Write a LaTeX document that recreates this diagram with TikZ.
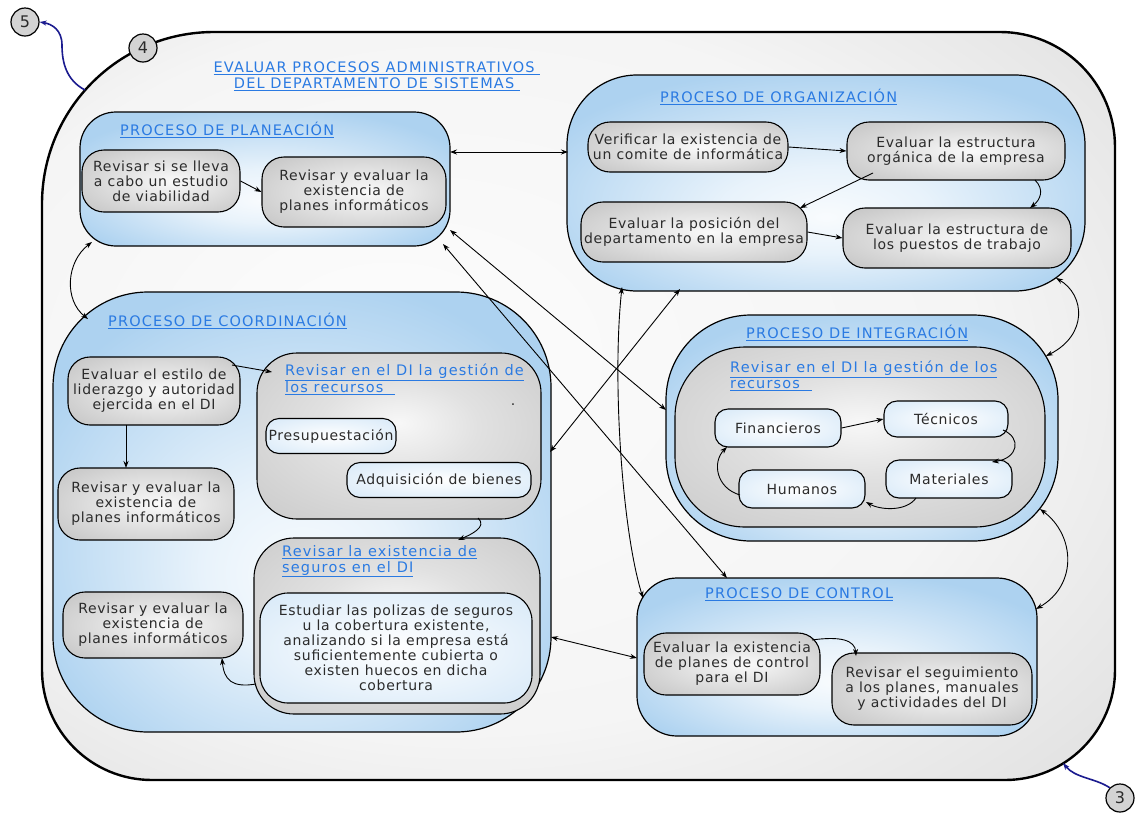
\documentclass[tikz,border=0pt]{standalone}
\usepackage{fontspec}
\setmainfont{DejaVu Sans}[LetterSpace=5]
\usetikzlibrary{arrows.meta}

\definecolor{procblue}{HTML}{ADD2F0}
\definecolor{itemblue}{HTML}{D2E6F7}
\definecolor{taskgray}{HTML}{C4C4C4}
\definecolor{boxgray}{HTML}{CDCDCD}
\definecolor{framegray}{HTML}{DADADA}
\definecolor{linkblue}{HTML}{2A7AE2}
\definecolor{inkgray}{HTML}{2B2B2B}
\definecolor{navyline}{HTML}{1B1B8F}
\definecolor{tagfill}{HTML}{D3D3D3}

\pgfdeclareradialshading{procshade}{\pgfpoint{0bp}{-8bp}}{color(0bp)=(white!92!procblue); color(10bp)=(white!72!procblue); color(30bp)=(procblue); color(50bp)=(procblue)}
\pgfdeclareradialshading{taskshade}{\pgfpoint{4bp}{0bp}}{color(0bp)=(white!92!taskgray); color(10bp)=(white!65!taskgray); color(36bp)=(taskgray); color(50bp)=(taskgray)}
\pgfdeclareradialshading{boxshade}{\pgfpoint{0bp}{4bp}}{color(0bp)=(white!85!boxgray); color(14bp)=(white!40!boxgray); color(34bp)=(boxgray); color(50bp)=(boxgray)}
\pgfdeclareradialshading{itemshade}{\pgfpoint{0bp}{0bp}}{color(0bp)=(white); color(16bp)=(white!60!itemblue); color(40bp)=(itemblue); color(50bp)=(itemblue)}
\pgfdeclareradialshading{frameshade}{\pgfpoint{-10bp}{4bp}}{color(0bp)=(white!99!black); color(24bp)=(white!96!black); color(42bp)=(framegray); color(50bp)=(framegray)}

\newcommand\tkfont{\fontsize{14}{15}\selectfont}
\newcommand\lkfont{\fontsize{14.5}{16}\selectfont\addfontfeature{LetterSpace=8}}
\newcommand\lnk[1]{\underline{#1}}

\tikzset{
  proc/.style={draw=black, line width=1.2pt, shade, shading=procshade, rounded corners=#1, inner sep=0pt},
  proc/.default=40pt,
  task/.style={draw=black, line width=1.1pt, shade, shading=taskshade, rounded corners=#1,
    align=center, text=inkgray, inner sep=0pt, font=\tkfont},
  task/.default=22pt,
  box/.style={draw=black, line width=1.1pt, shade, shading=boxshade, rounded corners=#1, inner sep=0pt},
  box/.default=40pt,
  item/.style={draw=black, line width=1.1pt, shade, shading=itemshade, rounded corners=13pt,
    align=center, text=inkgray, inner sep=0pt, font=\tkfont},
  ptitle/.style={text=linkblue, anchor=west, inner sep=0pt, font=\lkfont},
  subtitle/.style={text=linkblue, anchor=north west, inner sep=0pt, align=left, font=\lkfont},
  tip/.tip={Stealth[length=7pt,width=5pt]},
  onearrow/.style={-tip, line width=0.9pt},
  twoarrow/.style={tip-tip, line width=0.9pt},
  bluearrow/.style={-{Stealth[length=7pt,width=5pt]}, draw=navyline, line width=1.6pt},
  tag/.style={circle, draw=black, line width=1.2pt, fill=tagfill, minimum size=28pt,
    inner sep=0pt, text=inkgray, font=\fontsize{16}{16}\selectfont},
}

\begin{document}
\begin{tikzpicture}[x=1pt, y=-1pt]
\useasboundingbox (0,0) rectangle (1141,815);
\fill[white] (0,0) rectangle (1141,815);

% outer frame of the whole audit
\shade[shading=frameshade, draw=black, line width=2.4pt]
  (42,204) .. controls (42,109) and (119,32) .. (214,32)
  -- (1000,32) .. controls (1063.5,32) and (1115,83.5) .. (1115,147)
  -- (1115,670) .. controls (1115,730.8) and (1065.8,780) .. (1005,780)
  -- (152,780) .. controls (91.2,780) and (42,730.8) .. (42,670) -- cycle;
\coordinate (frame5) at (85,90);
\coordinate (frame3) at (1063,763);

\node[ptitle, anchor=center, align=center] (title) at (377,76)
  {\lnk{EVALUAR PROCESOS ADMINISTRATIVOS\ }\\\lnk{DEL DEPARTAMENTO DE SISTEMAS\ }};

% process blobs
\node[proc=36pt, minimum width=370pt, minimum height=134pt] (plan) at (265,179) {};
\node[proc=70pt, minimum width=518pt, minimum height=216pt] (org) at (826,183) {};
\node[proc=95pt, minimum width=498pt, minimum height=440pt] (coord) at (302,512) {};
\node[proc=85pt, minimum width=392pt, minimum height=226pt] (integ) at (862,428) {};
\node[proc=40pt, minimum width=400pt, minimum height=158pt] (ctrl) at (837,657) {};

\node[ptitle] (tplan) at (120,130) {\lnk{PROCESO DE PLANEACIÓN}};
\node[ptitle] (torg) at (660,97) {\lnk{PROCESO DE ORGANIZACIÓN}};
\node[ptitle] (tcoord) at (108,321) {\lnk{PROCESO DE COORDINACIÓN}};
\node[ptitle] (tinteg) at (746,333) {\lnk{PROCESO DE INTEGRACIÓN}};
\node[ptitle] (tctrl) at (705,594) {\lnk{PROCESO DE CONTROL}};

% planeacion
\node[task, minimum width=158pt, minimum height=62pt] (p1) at (161,181) {Revisar si se lleva\\a cabo un estudio\\de viabilidad};
\node[task, minimum width=184pt, minimum height=70pt] (p2) at (354,192) {Revisar y evaluar la\\existencia de\\planes informáticos};

% organizacion
\node[task, minimum width=200pt, minimum height=50pt] (o1) at (688,147) {Verificar la existencia de\\un comite de informática};
\node[task, minimum width=218pt, minimum height=58pt] (o2) at (956,151) {Evaluar la estructura\\orgánica de la empresa};
\node[task, minimum width=226pt, minimum height=60pt] (o3) at (694,232) {Evaluar la posición del\\departamento en la empresa};
\node[task, minimum width=228pt, minimum height=60pt] (o4) at (957,238) {Evaluar la estructura de\\los puestos de trabajo};

% coordinacion
\node[task, minimum width=172pt, minimum height=68pt] (c1) at (154,391) {Evaluar el estilo de\\liderazgo y autoridad\\ejercida en el DI};
\node[task, minimum width=176pt, minimum height=72pt] (c2) at (146,504) {Revisar y evaluar la\\existencia de\\planes informáticos};
\node[task, minimum width=180pt, minimum height=66pt] (c3) at (153,625) {Revisar y evaluar la\\existencia de\\planes informáticos};
\node[box=40pt, minimum width=284pt, minimum height=166pt] (g) at (399,436) {};
\node[subtitle] (tg) at (285,364) {\lnk{Revisar en el DI la gestión de}\\\lnk{los recursos\ \ }};
\node[text=inkgray, inner sep=0pt, font=\tkfont] (gdot) at (513,405) {.};
\node[item, minimum width=130pt, minimum height=35pt] (pres) at (331,436) {Presupuestación};
\node[item, minimum width=184pt, minimum height=35pt] (adq) at (439,480) {Adquisición de bienes};
\node[box=40pt, minimum width=286pt, minimum height=176pt] (s) at (397,626) {};
\node[subtitle] (ts) at (282,545) {\lnk{Revisar la existencia de}\\\lnk{seguros en el DI}};
\node[item, rounded corners=28pt, minimum width=272pt, minimum height=110pt] (e) at (396,648)
  {Estudiar las polizas de seguros\\u la cobertura existente,\\analizando si la empresa está\\suficientemente cubierta o\\existen huecos en dicha\\cobertura};

% integracion
\node[box=70pt, minimum width=370pt, minimum height=180pt] (ig) at (860,437) {};
\node[subtitle] (tig) at (730,361) {\lnk{Revisar en el DI la gestión de los}\\\lnk{recursos\ \ }};
\node[item, minimum width=126pt, minimum height=38pt] (fin) at (778,428) {Financieros};
\node[item, minimum width=124pt, minimum height=36pt] (tec) at (946,419) {Técnicos};
\node[item, minimum width=126pt, minimum height=38pt] (mat) at (949,479) {Materiales};
\node[item, minimum width=126pt, minimum height=38pt] (hum) at (802,489) {Humanos};

% control
\node[task, minimum width=176pt, minimum height=62pt] (ce1) at (732,664) {Evaluar la existencia\\de planes de control\\para el DI};
\node[task, minimum width=200pt, minimum height=72pt] (ce2) at (932,689) {Revisar el seguimiento\\a los planes, manuales\\y actividades del DI};

% links inside the processes
\draw[onearrow] (p1.east) -- (p2.west);
\draw[onearrow] (o1.east) -- (o2.west);
\draw[onearrow] ([shift={(-83,22)}]o2.center) -- ([shift={(106,-24)}]o3.center);
\draw[onearrow] ([shift={(79,29)}]o2.center) .. controls (1045,190) and (1040,200) .. ([shift={(73,-30)}]o4.center);
\draw[onearrow] (o3.east) -- (o4.west);
\draw[onearrow] ([shift={(78,-26)}]c1.center) -- ([shift={(-127,-64)}]g.center);
\draw[onearrow] ([shift={(-28,34)}]c1.center) -- ([shift={(-20,-36)}]c2.center);
\draw[onearrow] ([shift={(79,82)}]g.center) .. controls (488,527) and (470,535) .. ([shift={(61,-86)}]s.center);
\draw[onearrow] ([shift={(-141,58)}]s.center) .. controls (232,688) and (224,680) .. ([shift={(69,33)}]c3.center);
\draw[onearrow] (fin.east) -- (tec.west);
\draw[onearrow] ([shift={(57,11)}]tec.center) .. controls (1022,438) and (1018,458) .. ([shift={(43,-17)}]mat.center);
\draw[onearrow] ([shift={(-33,19)}]mat.center) .. controls (906,512) and (880,510) .. ([shift={(64,13)}]hum.center);
\draw[onearrow] ([shift={(-62,6)}]hum.center) .. controls (716,488) and (712,462) .. ([shift={(-51,19)}]fin.center);
\draw[onearrow] ([shift={(80,-24)}]ce1.center) .. controls (840,636) and (855,640) .. ([shift={(-76,-33)}]ce2.center);

% links between the processes
\draw[twoarrow] ([shift={(185,-27)}]plan.center) -- ([shift={(-258,-31)}]org.center);
\draw[twoarrow] ([shift={(-173,63)}]plan.center) .. controls (66,262) and (64,300) .. ([shift={(-214,-193)}]coord.center);
\draw[twoarrow] ([shift={(185,51)}]plan.center) -- ([shift={(-196,-18)}]integ.center);
\draw[twoarrow] ([shift={(178,65)}]plan.center) -- ([shift={(-110,-79)}]ctrl.center);
\draw[twoarrow] ([shift={(-204,104)}]org.center) .. controls (612,380) and (622,530) .. ([shift={(-194,-59)}]ctrl.center);
\draw[twoarrow] ([shift={(-146,106)}]org.center) -- ([shift={(248,-60)}]coord.center);
\draw[twoarrow] ([shift={(249,125)}]coord.center) -- ([shift={(-200,1)}]ctrl.center);
\draw[twoarrow] ([shift={(230,95)}]org.center) .. controls (1085,295) and (1088,335) .. ([shift={(184,-72)}]integ.center);
\draw[twoarrow] ([shift={(178,81)}]integ.center) .. controls (1075,535) and (1078,585) .. ([shift={(199,-48)}]ctrl.center);

% numbered tags
\node[tag] (t5) at (25,22) {5};
\node[tag] (t4) at (143,48) {4};
\node[tag] (t3) at (1120,798) {3};
\draw[bluearrow] (frame5) .. controls (66,80) and (62,62) .. (62,45) .. controls (62,30) and (52,24) .. (t5.east);
\draw[bluearrow] (t3.north west) .. controls (1095,778) and (1075,778) .. (frame3);
\end{tikzpicture}
\end{document}
